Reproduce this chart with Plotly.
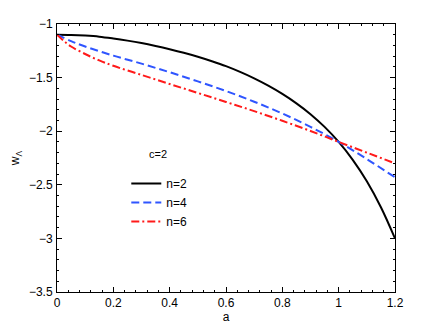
import plotly.graph_objects as go

# curve data (c=2)
a_n2 = [0, 0.05, 0.1, 0.15, 0.2, 0.25, 0.3, 0.35, 0.4, 0.45, 0.5, 0.55, 0.6, 0.65, 0.7, 0.75,
        0.8, 0.85, 0.9, 0.95, 1.0, 1.05, 1.1, 1.15, 1.2]
w_n2 = [-1.100, -1.102, -1.108, -1.118, -1.135, -1.155, -1.178, -1.205, -1.235, -1.268, -1.305,
        -1.347, -1.393, -1.447, -1.507, -1.575, -1.652, -1.740, -1.841, -1.960, -2.100, -2.267,
        -2.467, -2.709, -3.000]

a_n4 = [0, 0.05, 0.1, 0.2, 0.3, 0.4, 0.5, 0.6, 0.7, 0.8, 0.9, 1.0, 1.1, 1.2]
w_n4 = [-1.10, -1.16, -1.21, -1.295, -1.37, -1.45, -1.535, -1.625, -1.725, -1.835, -1.96,
        -2.10, -2.26, -2.43]

a_n6 = [0, 0.025, 0.05, 0.1, 0.15, 0.2, 0.3, 0.4, 0.5, 0.6, 0.7, 0.8, 0.9, 1.0, 1.1, 1.2]
w_n6 = [-1.10, -1.16, -1.21, -1.28, -1.34, -1.39, -1.475, -1.56, -1.643, -1.727, -1.813,
        -1.903, -1.998, -2.10, -2.20, -2.30]

x_ticks = [0, 0.2, 0.4, 0.6, 0.8, 1, 1.2]
y_ticks = [-1, -1.5, -2, -2.5, -3, -3.5]

FONT = "Liberation Sans, Arial, sans-serif"

fig = go.Figure()
fig.add_trace(go.Scatter(x=a_n2, y=w_n2, mode="lines", name="n=2",
                         line=dict(color="black", width=2, shape="spline")))
fig.add_trace(go.Scatter(x=a_n4, y=w_n4, mode="lines", name="n=4",
                         line=dict(color="#2f55ff", width=2, dash="8px,4px", shape="spline")))
fig.add_trace(go.Scatter(x=a_n6, y=w_n6, mode="lines", name="n=6",
                         line=dict(color="#ff1a1a", width=2, dash="8px,3px,2px,3px", shape="spline")))

fig.add_annotation(x=0.358, y=-2.21, xref="x", yref="y", text="c=2", showarrow=False,
                   font=dict(family=FONT, size=11, color="black"))

axis_style = dict(showline=True, linecolor="black", linewidth=1, mirror="allticks",
                  ticks="inside", ticklen=5, tickcolor="black", showgrid=False, zeroline=False,
                  automargin=False, tickfont=dict(family=FONT, size=12, color="black"))

fig.update_xaxes(range=[0, 1.2], tickvals=x_ticks, ticktext=[f"{v:g}" for v in x_ticks],
                 minor=dict(dtick=0.04, tick0=0, ticks="inside", ticklen=2, tickcolor="black"),
                 title=dict(text="a", font=dict(family=FONT, size=12, color="black"), standoff=0),
                 **axis_style)
fig.update_yaxes(range=[-3.5, -1], tickvals=y_ticks, ticklabelstandoff=1,
                 minor=dict(dtick=0.1, tick0=-1, ticks="inside", ticklen=2, tickcolor="black"),
                 title=dict(text="w<sub>Λ</sub>", font=dict(family=FONT, size=12, color="black"),
                            standoff=14),
                 **axis_style)

# the page body has an 8px margin, so the figure is 8px smaller and offset
fig.update_layout(
    width=428, height=320,
    margin=dict(l=49, r=41, t=16, b=36, autoexpand=False),
    paper_bgcolor="white", plot_bgcolor="white",
    font=dict(family=FONT, size=12, color="black"),
    showlegend=True,
    legend=dict(x=0.205, y=0.459, xanchor="left", yanchor="top", bgcolor="rgba(0,0,0,0)",
                font=dict(family=FONT, size=12, color="black"), tracegroupgap=0,
                itemwidth=30),
)

fig.write_html("out.html")
